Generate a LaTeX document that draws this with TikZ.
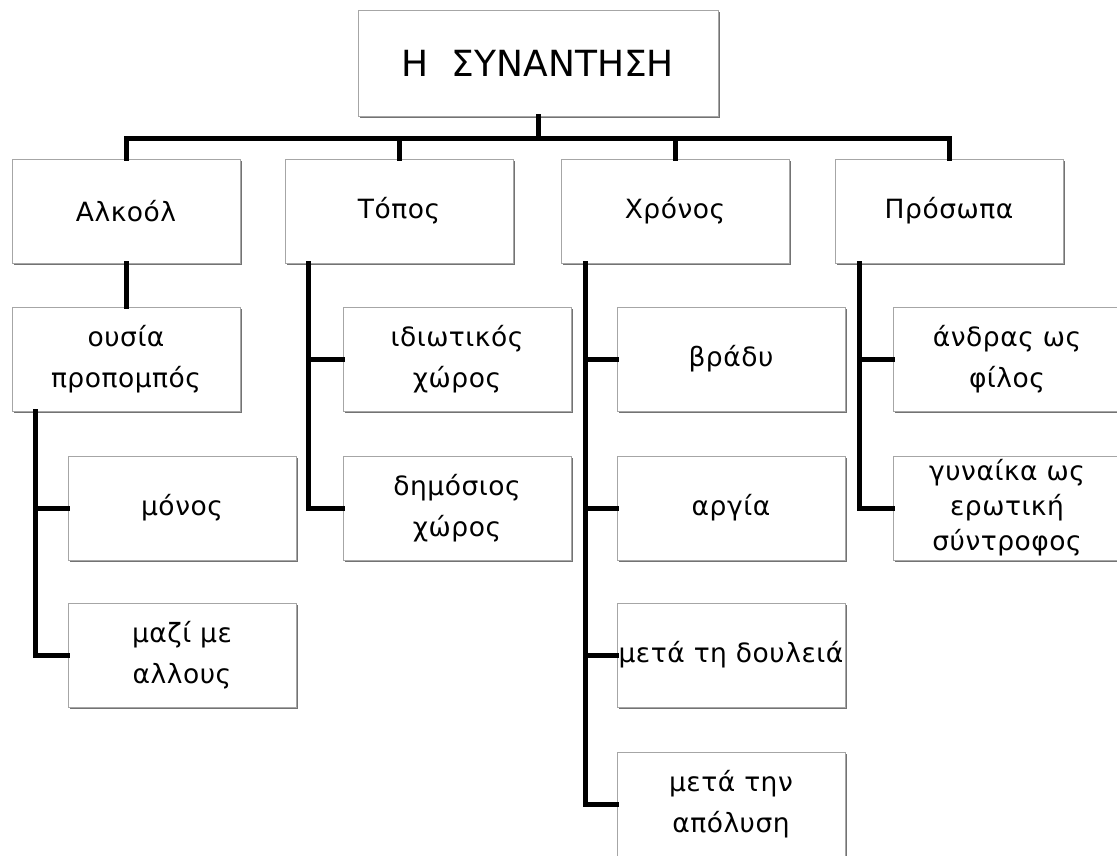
\documentclass[tikz,border=0pt]{standalone}
\usepackage{fontspec}
\setmainfont[LetterSpace=2]{DejaVu Sans}
\newfontfamily\headfont{DejaVu Sans}
\usetikzlibrary{shadows}
\begin{document}
\begin{tikzpicture}[x=1pt,y=-1pt,
  box/.style={draw=black!35, line width=0.8pt, fill=white,
    minimum width=228pt, minimum height=104pt, inner sep=0pt,
    align=center, font=\fontsize{26.5}{41}\selectfont,
    drop shadow={shadow xshift=1.6pt, shadow yshift=-1.6pt, fill=black!55, opacity=1}},
  titlebox/.style={box, minimum width=360pt, minimum height=106pt,
    font=\headfont\fontsize{36}{40}\selectfont},
  conn/.style={draw=black, line width=5pt, line cap=rect}]
\clip (0,0) rectangle (1117,855);
\fill[white] (0,0) rectangle (1117,855);

% nodes
\node[titlebox] (top) at (538,63) {Η\ \ ΣΥΝΑΝΤΗΣΗ};
\node[box] (alk) at (126,211) {Αλκοόλ};
\node[box] (top2) at (399,211) {Τόπος};
\node[box] (xro) at (675,211) {Χρόνος};
\node[box] (pro) at (949,211) {Πρόσωπα};

\node[box] (ous) at (126,359) {ουσία\\προπομπός};
\node[box] (mon) at (182,508) {μόνος};
\node[box] (maz) at (182,655) {μαζί με\\αλλους};

\node[box] (idi) at (457,359) {ιδιωτικός\\χώρος};
\node[box] (dim) at (457,508) {δημόσιος\\χώρος};

\node[box] (vra) at (731,359) {βράδυ};
\node[box] (arg) at (731,508) {αργία};
\node[box] (dou) at (731,655) {μετά τη δουλειά};
\node[box] (apo) at (731,804) {μετά την\\απόλυση};

\node[box] (and) at (1007,359) {άνδρας ως\\φίλος};
\node[box, font=\fontsize{26.5}{35}\selectfont] (gyn) at (1007,508) {γυναίκα ως\\ερωτική\\σύντροφος};

% connectors
\coordinate (bus) at (538,138);
\draw[conn] (top.south) -- (top.south |- bus);
\draw[conn] (alk.north) -- (alk.north |- bus) -- (pro.north |- bus) -- (pro.north);
\draw[conn] (top2.north) -- (top2.north |- bus);
\draw[conn] (xro.north) -- (xro.north |- bus);

\draw[conn] (alk.south) -- (ous.north);

\coordinate (va) at ([xshift=24pt]ous.south west);
\draw[conn] (va) |- (maz.west);
\draw[conn] (mon.west) -- (mon.west -| va);

\coordinate (vb) at ([xshift=24pt]top2.south west);
\draw[conn] (vb) |- (dim.west);
\draw[conn] (idi.west) -- (idi.west -| vb);

\coordinate (vc) at ([xshift=25pt]xro.south west);
\draw[conn] (vc) |- (apo.west);
\draw[conn] (vra.west) -- (vra.west -| vc);
\draw[conn] (arg.west) -- (arg.west -| vc);
\draw[conn] (dou.west) -- (dou.west -| vc);

\coordinate (vd) at ([xshift=25pt]pro.south west);
\draw[conn] (vd) |- (gyn.west);
\draw[conn] (and.west) -- (and.west -| vd);
\end{tikzpicture}
\end{document}
